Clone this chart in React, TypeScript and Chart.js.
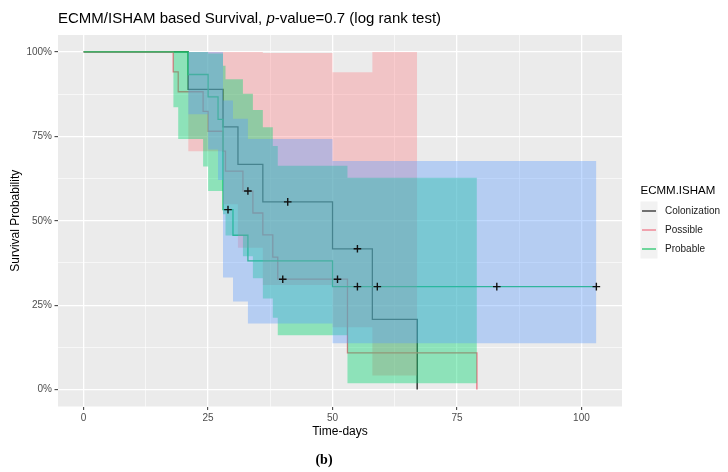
import React, { useEffect, useRef } from 'react';
import { Chart, registerables } from 'chart.js';

Chart.register(...registerables);

// ---------- data ----------
const groupNames = ['Colonization', 'Possible', 'Probable'];
const lineColors = ['#1c1c1c', '#EE6F80', '#18C463'];
const bandColors = ['rgba(255,115,120,0.32)', 'rgba(0,212,110,0.4)', 'rgba(90,155,255,0.37)'];

// Colonization
const colTimes = [0, 21, 28, 31, 36, 41, 50, 55, 58, 67];
const colSurv = [1, 0.889, 0.778, 0.667, 0.556, 0.556, 0.417, 0.417, 0.208, 0];
const colCensorTimes = [41, 55];
const colCensorSurv = [0.556, 0.417];
const colBandTimes = [21, 28, 31, 36, 50, 58, 67];
const colLower = [0.706, 0.549, 0.42, 0.31, 0.185, 0.042, 0.042];
const colUpper = [1, 1, 1, 0.997, 0.94, 1, 1];

// Possible
const posTimes = [0, 18, 19, 24, 25, 28, 28.5, 32, 33, 34, 36, 38, 39, 40, 51, 53, 79];
const posSurv = [1, 0.941, 0.882, 0.824, 0.765, 0.706, 0.647, 0.588, 0.588, 0.523, 0.458, 0.392, 0.327, 0.327, 0.327, 0.109, 0];
const posCensorTimes = [33, 40, 51];
const posCensorSurv = [0.588, 0.327, 0.327];
const posBandTimes = [18, 19, 24, 25, 28, 28.5, 32, 34, 36, 38, 39, 53, 79];
const posLower = [0.836, 0.742, 0.661, 0.588, 0.519, 0.456, 0.395, 0.33, 0.27, 0.213, 0.161, 0.019, 0.019];
const posUpper = [1, 1, 1, 0.995, 0.959, 0.919, 0.876, 0.828, 0.777, 0.721, 0.663, 0.627, 0.627];

// Probable
const proTimes = [0, 21, 25, 27, 28, 29, 30, 33, 50, 55, 59, 83, 103];
const proSurv = [1, 0.933, 0.867, 0.8, 0.533, 0.533, 0.457, 0.381, 0.305, 0.305, 0.305, 0.305, 0.305];
const proCensorTimes = [29, 55, 59, 83, 103];
const proCensorSurv = [0.533, 0.305, 0.305, 0.305, 0.305];
const proBandTimes = [21, 25, 27, 28, 30, 33, 50, 103];
const proLower = [0.815, 0.711, 0.621, 0.332, 0.261, 0.196, 0.137, 0.137];
const proUpper = [1, 1, 1, 0.856, 0.802, 0.742, 0.677, 0.677];

// axes
const xMajorTicks = [0, 25, 50, 75, 100];
const xMinorTicks = [12.5, 37.5, 62.5, 87.5];
const yMajorTicks = [0, 0.25, 0.5, 0.75, 1];
const yMinorTicks = [0.125, 0.375, 0.625, 0.875];

const titleParts = [
  { text: 'ECMM/ISHAM based Survival, ', italic: false },
  { text: 'p', italic: true },
  { text: '-value=0.7 (log rank test)', italic: false },
];
const legendTitle = 'ECMM.ISHAM';
const xTitle = 'Time-days';
const yTitle = 'Survival Probability';
const caption = '(b)';

const FONT = "'Liberation Sans', Arial, sans-serif";

const zip = (xs: number[], ys: number[]) => xs.map((x, i) => ({ x, y: ys[i] }));

const panelBg = {
  id: 'panelBg',
  beforeDraw(chart: any) {
    const { ctx, chartArea: a } = chart;
    ctx.save();
    ctx.fillStyle = '#EBEBEB';
    ctx.fillRect(a.left, a.top, a.right - a.left, a.bottom - a.top);
    ctx.restore();
  },
};

const decorations = {
  id: 'decorations',
  afterDraw(chart: any) {
    const { ctx, chartArea: a } = chart;
    ctx.save();
    // title
    let x = a.left;
    ctx.fillStyle = '#000';
    ctx.textBaseline = 'alphabetic';
    ctx.textAlign = 'left';
    for (const p of titleParts) {
      ctx.font = `${p.italic ? 'italic ' : ''}15px ${FONT}`;
      ctx.fillText(p.text, x, 23);
      x += ctx.measureText(p.text).width;
    }
    // legend
    const lx = 640.5;
    ctx.font = `11.5px ${FONT}`;
    ctx.fillStyle = '#000';
    ctx.fillText(legendTitle, lx, 194);
    ctx.fillStyle = '#F2F2F2';
    ctx.fillRect(lx, 201.5, 17, 57);
    groupNames.forEach((name, i) => {
      const cy = 211 + i * 19;
      ctx.strokeStyle = lineColors[i];
      ctx.lineWidth = 1.2;
      ctx.beginPath();
      ctx.moveTo(lx + 1.5, cy);
      ctx.lineTo(lx + 15.5, cy);
      ctx.stroke();
      ctx.fillStyle = '#1a1a1a';
      ctx.font = `10px ${FONT}`;
      ctx.textBaseline = 'middle';
      ctx.fillText(name, 665, cy);
    });
    // caption
    ctx.textAlign = 'center';
    ctx.textBaseline = 'alphabetic';
    ctx.fillStyle = '#000';
    ctx.font = "bold 14px 'Liberation Serif', 'Times New Roman', serif";
    ctx.fillText(caption, 324, 464);
    ctx.restore();
  },
};

export default function App() {
  const ref = useRef<HTMLCanvasElement>(null);

  useEffect(() => {
    if (!ref.current) return;
    Chart.defaults.font.family = FONT;

    const lineDs = (label: string, xs: number[], ys: number[], color: string, order: number) => ({
      type: 'line',
      label,
      data: zip(xs, ys),
      borderColor: color,
      borderWidth: 1.3,
      stepped: true,
      pointRadius: 0,
      fill: false,
      order,
    });
    const upperDs = (xs: number[], ys: number[], color: string, target: number, order: number) => ({
      type: 'line',
      label: 'upper',
      data: zip(xs, ys),
      borderColor: 'transparent',
      borderWidth: 0,
      backgroundColor: color,
      stepped: true,
      pointRadius: 0,
      fill: { target, above: color, below: color },
      order,
    });
    const lowerDs = (xs: number[], ys: number[]) => ({
      type: 'line',
      label: 'lower',
      data: zip(xs, ys),
      borderColor: 'transparent',
      borderWidth: 0,
      stepped: true,
      pointRadius: 0,
      fill: false,
      order: 20,
    });
    const censorDs = (xs: number[], ys: number[]) => ({
      type: 'line',
      label: 'censor',
      data: zip(xs, ys),
      showLine: false,
      pointStyle: 'cross',
      pointRadius: 3.8,
      pointBorderWidth: 1.4,
      pointBorderColor: '#111',
      pointBackgroundColor: '#111',
      fill: false,
      order: 0,
    });

    const datasets: any[] = [
      lineDs(groupNames[0], colTimes, colSurv, lineColors[0], 12),
      lineDs(groupNames[1], posTimes, posSurv, lineColors[1], 11),
      lineDs(groupNames[2], proTimes, proSurv, lineColors[2], 10),
      upperDs(colBandTimes, colUpper, bandColors[0], 4, 6),
      lowerDs(colBandTimes, colLower),
      upperDs(posBandTimes, posUpper, bandColors[1], 6, 5),
      lowerDs(posBandTimes, posLower),
      upperDs(proBandTimes, proUpper, bandColors[2], 8, 4),
      lowerDs(proBandTimes, proLower),
      censorDs(colCensorTimes, colCensorSurv),
      censorDs(posCensorTimes, posCensorSurv),
      censorDs(proCensorTimes, proCensorSurv),
    ];

    const isXMajor = (v: number) => xMajorTicks.includes(v);
    const isYMajor = (v: number) => yMajorTicks.includes(v);

    const chart = new Chart(ref.current, {
      type: 'line',
      data: { datasets },
      plugins: [panelBg, decorations],
      options: {
        responsive: false,
        animation: false,
        devicePixelRatio: 1,
        layout: { padding: { left: 0, right: 106, top: 35, bottom: 0 } },
        plugins: {
          legend: { display: false },
          title: { display: false },
          tooltip: { enabled: false },
        },
        scales: {
          x: {
            type: 'linear',
            min: -5.15,
            max: 108.15,
            afterBuildTicks: (axis: any) => {
              axis.ticks = [...xMajorTicks, ...xMinorTicks].sort((a, b) => a - b).map((v) => ({ value: v }));
            },
            afterFit: (axis: any) => {
              axis.height = 65.5;
            },
            ticks: {
              autoSkip: false,
              maxRotation: 0,
              padding: 2,
              color: '#4D4D4D',
              font: { size: 10 },
              callback: (v: any) => (isXMajor(v) ? String(v) : ''),
            },
            grid: {
              color: '#FFFFFF',
              lineWidth: (c: any) => (c.tick && isXMajor(c.tick.value) ? 1.3 : 0.6),
              tickLength: 3.5,
              tickColor: (c: any) => (c.tick && isXMajor(c.tick.value) ? '#333333' : 'transparent'),
              tickWidth: (c: any) => (c.tick && isXMajor(c.tick.value) ? 1 : 0),
            },
            border: { display: false },
            title: {
              display: true,
              text: xTitle,
              color: '#000',
              font: { size: 12 },
              padding: { top: 0, bottom: 32.8 },
            },
          },
          y: {
            type: 'linear',
            min: -0.05,
            max: 1.05,
            afterBuildTicks: (axis: any) => {
              axis.ticks = [...yMajorTicks, ...yMinorTicks].sort((a, b) => a - b).map((v) => ({ value: v }));
            },
            afterFit: (axis: any) => {
              axis.width = 58;
            },
            ticks: {
              autoSkip: false,
              padding: 2.5,
              color: '#4D4D4D',
              font: { size: 10 },
              callback: (v: any) => (isYMajor(v) ? `${Math.round(v * 100)}%` : ''),
            },
            grid: {
              color: '#FFFFFF',
              lineWidth: (c: any) => (c.tick && isYMajor(c.tick.value) ? 1.3 : 0.6),
              tickLength: 3.5,
              tickColor: (c: any) => (c.tick && isYMajor(c.tick.value) ? '#333333' : 'transparent'),
              tickWidth: (c: any) => (c.tick && isYMajor(c.tick.value) ? 1 : 0),
            },
            border: { display: false },
            title: {
              display: true,
              text: yTitle,
              color: '#000',
              font: { size: 12 },
              padding: { top: 8, bottom: 0 },
            },
          },
        },
      } as any,
    });

    return () => chart.destroy();
  }, []);

  return (
    <div style={{ position: 'fixed', left: 0, top: 0, width: 728, height: 472, background: '#fff' }}>
      <canvas ref={ref} width={728} height={472} style={{ width: 728, height: 472, display: 'block' }} />
    </div>
  );
}
